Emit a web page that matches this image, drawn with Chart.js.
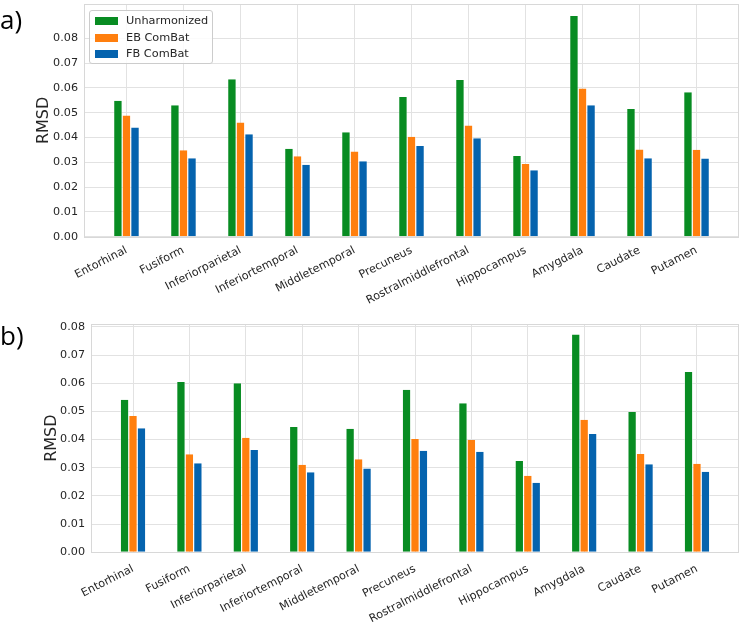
<!DOCTYPE html>
<html lang="en">
<head>
<meta charset="UTF-8">
<title>RMSD by region</title>
<script src="https://cdn.jsdelivr.net/npm/chart.js"></script>
<style>
    body {
        margin: 0;
        background: #FFFFFF;
        width: 744px;
        height: 630px;
        position: relative;
        overflow: hidden;
        font-family: 'DejaVu Sans', sans-serif;
    }

    canvas {
        position: absolute;
        left: 0;
    }

    .tag {
        position: absolute;
        left: 0;
        font-family: 'Open Sans', sans-serif;
        font-size: 26px;
        line-height: 1;
        color: #000;
    }

    .legend {
        position: absolute;
        left: 89px;
        top: 10px;
        width: 124px;
        height: 54px;
        background: rgba(255, 255, 255, 0.85);
        border: 1px solid #CCCCCC;
        border-radius: 3px;
        box-sizing: border-box;
        font-size: 11.3px;
        color: #262626;
    }

    .legend .row {
        position: absolute;
        left: 0;
        height: 14px;
        line-height: 14px;
    }

    .legend .patch {
        position: absolute;
        left: 5px;
        top: 3px;
        width: 23px;
        height: 8px;
    }

    .legend .label {
        position: absolute;
        left: 36px;
        top: 0;
        white-space: nowrap;
    }
</style>
</head>
<body>
<canvas id="chartA" width="744" height="320" style="top:0"></canvas>
<canvas id="chartB" width="744" height="330" style="top:300px"></canvas>
<div class="tag" style="top:6px">a)</div>
<div class="tag" style="top:322px">b)</div>
<div class="legend" id="legend"></div>

<script>
    const categories = ['Entorhinal', 'Fusiform', 'Inferiorparietal', 'Inferiortemporal', 'Middletemporal',
        'Precuneus', 'Rostralmiddlefrontal', 'Hippocampus', 'Amygdala', 'Caudate', 'Putamen'];
    const seriesNames = ['Unharmonized', 'EB ComBat', 'FB ComBat'];
    const seriesColors = ['#088C22', '#FF7F0E', '#0563AE'];

    // panel a)
    const unharmA = [0.0548, 0.0530, 0.0635, 0.0355, 0.0421, 0.0563, 0.0632, 0.0325, 0.0890, 0.0515, 0.0582];
    const ebA = [0.0489, 0.0348, 0.0460, 0.0324, 0.0343, 0.0403, 0.0448, 0.0293, 0.0597, 0.0352, 0.0350];
    const fbA = [0.0440, 0.0316, 0.0413, 0.0290, 0.0304, 0.0366, 0.0397, 0.0268, 0.0530, 0.0316, 0.0315];

    // panel b)
    const unharmB = [0.0541, 0.0604, 0.0600, 0.0445, 0.0438, 0.0577, 0.0529, 0.0324, 0.0773, 0.0498, 0.0640];
    const ebB = [0.0484, 0.0348, 0.0406, 0.0311, 0.0330, 0.0402, 0.0398, 0.0272, 0.0470, 0.0349, 0.0314];
    const fbB = [0.0440, 0.0316, 0.0363, 0.0284, 0.0297, 0.0360, 0.0357, 0.0247, 0.0420, 0.0312, 0.0286];

    const yTicks = [0, 0.01, 0.02, 0.03, 0.04, 0.05, 0.06, 0.07, 0.08];

    const textColor = '#262626';
    const gridColor = '#E2E2E2';

    // light grey box round the plot area, under the bars
    const frame = {
        id: 'frame',
        beforeDatasetsDraw(chart) {
            const a = chart.chartArea, ctx = chart.ctx;
            ctx.save();
            ctx.strokeStyle = '#D8D8D8';
            ctx.lineWidth = 1;
            ctx.strokeRect(Math.round(a.left) + 0.5, Math.round(a.top) + 0.5,
                Math.round(a.right - a.left) - 1, Math.round(a.bottom - a.top));
            ctx.restore();
        }
    };

    function makeChart(id, series, yMax, geo) {
        return new Chart(document.getElementById(id), {
            type: 'bar',
            data: {
                datasets: series.map((vals, i) => ({
                    label: seriesNames[i],
                    data: vals.map((v, k) => ({ x: k, y: v })),
                    backgroundColor: seriesColors[i],
                    borderColor: '#FFFFFF',
                    borderWidth: { left: 0.6, right: 0.6, top: 0, bottom: 0 },
                    categoryPercentage: 0.45,
                    barPercentage: 1.0
                }))
            },
            options: {
                responsive: false,
                animation: false,
                layout: { padding: { top: geo.top, right: 5, left: 0, bottom: 0 } },
                plugins: {
                    legend: { display: false },
                    tooltip: { enabled: false }
                },
                scales: {
                    x: {
                        type: 'linear',
                        offset: false,
                        min: -0.745,
                        max: 10.745,
                        afterBuildTicks: s => { s.ticks = categories.map((c, i) => ({ value: i })); },
                        afterFit: s => { s.height = geo.xHeight; s.paddingLeft = 0; s.paddingRight = 0; },
                        grid: { color: gridColor, drawTicks: false, offset: false },
                        border: { display: false },
                        ticks: {
                            autoSkip: false,
                            maxRotation: 27,
                            minRotation: 27,
                            padding: geo.xPad,
                            color: textColor,
                            font: { family: 'DejaVu Sans', size: 11.2 },
                            callback: (v, i) => categories[i]
                        }
                    },
                    y: {
                        min: 0,
                        max: yMax,
                        afterBuildTicks: s => { s.ticks = yTicks.map(v => ({ value: v })); },
                        afterFit: s => { s.width = geo.yWidth; s.paddingTop = 0; s.paddingBottom = 0; },
                        grid: { color: gridColor, drawTicks: false },
                        border: { display: false },
                        ticks: {
                            padding: 6,
                            color: textColor,
                            font: { family: 'DejaVu Sans', size: 11.2 },
                            callback: v => v.toFixed(2)
                        },
                        title: {
                            display: true,
                            text: 'RMSD',
                            color: textColor,
                            font: { family: 'DejaVu Sans', size: 16 },
                            padding: { top: geo.titlePad, bottom: 0 }
                        }
                    }
                }
            },
            plugins: [frame]
        });
    }

    makeChart('chartA', [unharmA, ebA, fbA], 0.0938, { top: 4, xHeight: 83.3, yWidth: 84, titlePad: 34, xPad: 7 });
    makeChart('chartB', [unharmB, ebB, fbB], 0.0810, { top: 24, xHeight: 77.7, yWidth: 91, titlePad: 42, xPad: 10 });

    // legend of panel a), drawn inside the plot area
    const legend = document.getElementById('legend');
    seriesNames.forEach((name, i) => {
        const row = document.createElement('div');
        row.className = 'row';
        row.style.top = (3 + i * 16.7) + 'px';
        row.innerHTML = '<span class="patch" style="background:' + seriesColors[i] + '"></span>' +
            '<span class="label">' + name + '</span>';
        legend.appendChild(row);
    });
</script>
</body>
</html>
